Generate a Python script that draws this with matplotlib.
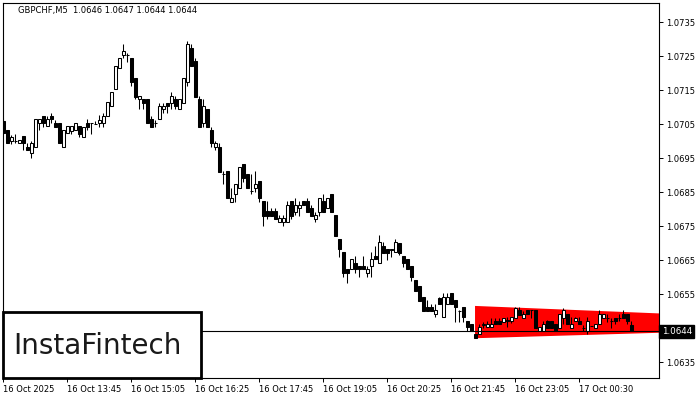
import matplotlib
matplotlib.use("Agg")
import matplotlib.pyplot as plt
from matplotlib.patches import Polygon, Rectangle

# GBPCHF M5 candles
opens = [
    1.07059, 1.07032, 1.07000, 1.07000, 1.06994, 1.07015, 1.06982, 1.06965, 1.06982, 1.07053,
    1.07074, 1.07044, 1.07074, 1.07053, 1.07053, 1.06982, 1.07024, 1.07029, 1.07032, 1.07044,
    1.07012, 1.07053, 1.07053, 1.07050, 1.07053, 1.07053, 1.07074, 1.07103, 1.07153, 1.07215,
    1.07253, 1.07253, 1.07244, 1.07185, 1.07124, 1.07124, 1.07124, 1.07065, 1.07053, 1.07065,
    1.07094, 1.07112, 1.07112, 1.07124, 1.07094, 1.07112, 1.07174, 1.07274, 1.07235, 1.07124,
    1.07053, 1.07094, 1.07032, 1.06982, 1.06982, 1.06903, 1.06912, 1.06821, 1.06844, 1.06862,
    1.06932, 1.06903, 1.06853, 1.06862, 1.06882, 1.06824, 1.06794, 1.06794, 1.06794, 1.06762,
    1.06762, 1.06762, 1.06824, 1.06791, 1.06803, 1.06824, 1.06824, 1.06803, 1.06771, 1.06791,
    1.06824, 1.06803, 1.06844, 1.06782, 1.06712, 1.06674, 1.06624, 1.06624, 1.06641, 1.06632,
    1.06632, 1.06612, 1.06632, 1.06662, 1.06641, 1.06691, 1.06682, 1.06682, 1.06674, 1.06700,
    1.06662, 1.06653, 1.06632, 1.06591, 1.06574, 1.06541, 1.06512, 1.06512, 1.06491, 1.06538,
    1.06482, 1.06521, 1.06553, 1.06532, 1.06500, 1.06512, 1.06471, 1.06462, 1.06432, 1.06432,
    1.06459, 1.06453, 1.06453, 1.06471, 1.06471, 1.06468, 1.06474, 1.06471, 1.06479, 1.06503,
    1.06479, 1.06503, 1.06503, 1.06503, 1.06441, 1.06441, 1.06471, 1.06471, 1.06462, 1.06450,
    1.06479, 1.06491, 1.06450, 1.06471, 1.06471, 1.06450, 1.06441, 1.06456, 1.06450, 1.06462,
    1.06479, 1.06479, 1.06471, 1.06479, 1.06479, 1.06491, 1.06491, 1.06460,
]
highs = [
    1.07068, 1.07032, 1.07018, 1.07021, 1.07003, 1.07015, 1.06994, 1.07000, 1.07065, 1.07065,
    1.07074, 1.07074, 1.07082, 1.07062, 1.07053, 1.07032, 1.07044, 1.07044, 1.07053, 1.07044,
    1.07041, 1.07065, 1.07053, 1.07059, 1.07076, 1.07082, 1.07115, 1.07144, 1.07221, 1.07244,
    1.07285, 1.07259, 1.07244, 1.07185, 1.07132, 1.07124, 1.07124, 1.07074, 1.07062, 1.07112,
    1.07112, 1.07112, 1.07144, 1.07132, 1.07124, 1.07185, 1.07294, 1.07285, 1.07244, 1.07132,
    1.07124, 1.07094, 1.07041, 1.07000, 1.06994, 1.06912, 1.06912, 1.06862, 1.06874, 1.06924,
    1.06932, 1.06903, 1.06903, 1.06912, 1.06882, 1.06824, 1.06824, 1.06803, 1.06803, 1.06782,
    1.06782, 1.06824, 1.06824, 1.06832, 1.06824, 1.06824, 1.06832, 1.06812, 1.06791, 1.06832,
    1.06844, 1.06832, 1.06844, 1.06782, 1.06712, 1.06674, 1.06624, 1.06653, 1.06662, 1.06632,
    1.06662, 1.06632, 1.06674, 1.06691, 1.06724, 1.06703, 1.06682, 1.06682, 1.06712, 1.06700,
    1.06662, 1.06653, 1.06632, 1.06591, 1.06574, 1.06541, 1.06532, 1.06521, 1.06521, 1.06541,
    1.06553, 1.06553, 1.06553, 1.06532, 1.06503, 1.06512, 1.06471, 1.06462, 1.06432, 1.06462,
    1.06468, 1.06471, 1.06479, 1.06479, 1.06479, 1.06479, 1.06482, 1.06482, 1.06512, 1.06512,
    1.06500, 1.06503, 1.06503, 1.06503, 1.06453, 1.06471, 1.06474, 1.06471, 1.06462, 1.06491,
    1.06509, 1.06491, 1.06482, 1.06482, 1.06482, 1.06459, 1.06482, 1.06456, 1.06462, 1.06503,
    1.06491, 1.06491, 1.06479, 1.06479, 1.06491, 1.06503, 1.06491, 1.06470,
]
lows = [
    1.07021, 1.06994, 1.06991, 1.06994, 1.06994, 1.06974, 1.06974, 1.06950, 1.06982, 1.07032,
    1.07041, 1.07044, 1.07053, 1.07041, 1.06994, 1.06982, 1.07024, 1.07021, 1.07032, 1.07012,
    1.07012, 1.07032, 1.07021, 1.07050, 1.07041, 1.07041, 1.07074, 1.07103, 1.07153, 1.07215,
    1.07244, 1.07232, 1.07162, 1.07124, 1.07094, 1.07094, 1.07053, 1.07041, 1.07041, 1.07065,
    1.07082, 1.07082, 1.07094, 1.07094, 1.07094, 1.07112, 1.07162, 1.07221, 1.07129, 1.07041,
    1.07041, 1.07041, 1.06982, 1.06974, 1.06909, 1.06874, 1.06832, 1.06821, 1.06821, 1.06862,
    1.06879, 1.06862, 1.06844, 1.06850, 1.06821, 1.06750, 1.06771, 1.06779, 1.06771, 1.06762,
    1.06750, 1.06762, 1.06771, 1.06782, 1.06779, 1.06812, 1.06791, 1.06779, 1.06762, 1.06779,
    1.06791, 1.06803, 1.06791, 1.06721, 1.06659, 1.06600, 1.06582, 1.06624, 1.06612, 1.06600,
    1.06624, 1.06600, 1.06600, 1.06653, 1.06641, 1.06671, 1.06650, 1.06659, 1.06674, 1.06665,
    1.06629, 1.06624, 1.06588, 1.06559, 1.06529, 1.06500, 1.06500, 1.06500, 1.06482, 1.06521,
    1.06482, 1.06521, 1.06521, 1.06468, 1.06468, 1.06468, 1.06441, 1.06441, 1.06421, 1.06432,
    1.06450, 1.06453, 1.06453, 1.06462, 1.06462, 1.06468, 1.06453, 1.06465, 1.06479, 1.06488,
    1.06479, 1.06491, 1.06479, 1.06450, 1.06441, 1.06441, 1.06450, 1.06450, 1.06441, 1.06450,
    1.06462, 1.06462, 1.06450, 1.06471, 1.06462, 1.06441, 1.06432, 1.06456, 1.06450, 1.06462,
    1.06479, 1.06468, 1.06450, 1.06462, 1.06471, 1.06479, 1.06462, 1.06440,
]
closes = [
    1.07024, 1.06994, 1.07012, 1.07000, 1.07003, 1.06994, 1.06974, 1.06994, 1.07065, 1.07065,
    1.07053, 1.07065, 1.07065, 1.07041, 1.06994, 1.07032, 1.07044, 1.07044, 1.07053, 1.07021,
    1.07041, 1.07041, 1.07053, 1.07050, 1.07062, 1.07074, 1.07115, 1.07144, 1.07221, 1.07244,
    1.07265, 1.07253, 1.07174, 1.07129, 1.07132, 1.07112, 1.07053, 1.07041, 1.07053, 1.07103,
    1.07103, 1.07103, 1.07132, 1.07103, 1.07124, 1.07185, 1.07285, 1.07221, 1.07129, 1.07041,
    1.07103, 1.07041, 1.06994, 1.06994, 1.06909, 1.06903, 1.06832, 1.06832, 1.06874, 1.06924,
    1.06891, 1.06862, 1.06853, 1.06874, 1.06832, 1.06779, 1.06779, 1.06779, 1.06771, 1.06774,
    1.06774, 1.06812, 1.06779, 1.06812, 1.06812, 1.06812, 1.06791, 1.06779, 1.06782, 1.06832,
    1.06791, 1.06832, 1.06791, 1.06721, 1.06682, 1.06612, 1.06612, 1.06653, 1.06624, 1.06624,
    1.06624, 1.06624, 1.06653, 1.06653, 1.06703, 1.06671, 1.06671, 1.06679, 1.06703, 1.06671,
    1.06641, 1.06624, 1.06600, 1.06559, 1.06529, 1.06500, 1.06500, 1.06500, 1.06503, 1.06521,
    1.06541, 1.06541, 1.06521, 1.06512, 1.06500, 1.06482, 1.06453, 1.06441, 1.06421, 1.06453,
    1.06462, 1.06462, 1.06462, 1.06462, 1.06462, 1.06479, 1.06471, 1.06482, 1.06509, 1.06488,
    1.06491, 1.06491, 1.06503, 1.06450, 1.06453, 1.06462, 1.06450, 1.06450, 1.06441, 1.06491,
    1.06503, 1.06462, 1.06462, 1.06479, 1.06462, 1.06450, 1.06471, 1.06456, 1.06462, 1.06491,
    1.06491, 1.06479, 1.06471, 1.06471, 1.06479, 1.06479, 1.06471, 1.06440,
]

time_label_bars = [0, 16, 32, 48, 64, 80, 96, 112, 128, 144]
time_labels = ["16 Oct 2025", "16 Oct 13:45", "16 Oct 15:05", "16 Oct 16:25",
               "16 Oct 17:45", "16 Oct 19:05", "16 Oct 20:25", "16 Oct 21:45",
               "16 Oct 23:05", "17 Oct 00:30"]
price_ticks = [1.0635, 1.0645, 1.0655, 1.0665, 1.0675, 1.0685,
               1.0695, 1.0705, 1.0715, 1.0725, 1.0735]
title = "GBPCHF,M5  1.0646 1.0647 1.0644 1.0644"
last_price = 1.0644

# red pattern (flag) corners
pattern_start_bar = 117.9
pattern_top = [1.06515, 1.06493]
pattern_bottom = [1.06420, 1.06436]

W, H = 700, 400
fig = plt.figure(figsize=(W / 100, H / 100), dpi=100)
fig.patch.set_facecolor("white")
ax = fig.add_axes([2.7 / W, 22 / H, 656.3 / W, 375.3 / H])
x_lo, x_hi = -0.2, 163.9
ax.set_xlim(x_lo, x_hi)
ax.set_ylim(1.06303, 1.07407)

# pattern area
ax.add_patch(Polygon([(pattern_start_bar, pattern_top[0]), (x_hi, pattern_top[1]),
                      (x_hi, pattern_bottom[1]), (pattern_start_bar, pattern_bottom[0])],
                     closed=True, facecolor="#ff0000", edgecolor="none", zorder=1))

n = len(opens)
xs = list(range(n))
ax.vlines(xs, lows, highs, color="black", linewidth=0.75, zorder=2)
body_w = 0.65
for i in xs:
    o, c = opens[i], closes[i]
    lo = min(o, c)
    hgt = abs(c - o)
    fc = "white" if c >= o else "black"
    ax.add_patch(Rectangle((i - body_w / 2, lo), body_w, hgt, facecolor=fc,
                           edgecolor="black", linewidth=0.75, zorder=3))

ax.axhline(last_price, color="black", linewidth=0.8, zorder=4)

# axes styling
for s in ax.spines.values():
    s.set_linewidth(0.8)
    s.set_color("black")
ax.yaxis.tick_right()
ax.set_yticks(price_ticks)
ax.set_yticklabels(["%.4f" % p for p in price_ticks])
ax.tick_params(axis="y", direction="out", length=3, width=0.7, pad=2,
               labelsize=6, colors="black")
ax.set_xticks(time_label_bars)
ax.set_xticklabels(time_labels)
ax.tick_params(axis="x", direction="out", length=3, width=0.7, pad=2,
               labelsize=6, colors="black")
for lbl in ax.get_xticklabels():
    lbl.set_horizontalalignment("left")

ax.text(1.004, last_price, "%.4f" % last_price, transform=ax.get_yaxis_transform(),
        ha="left", va="center", fontsize=6.3, color="white", clip_on=False,
        bbox=dict(boxstyle="square,pad=0.25", facecolor="black", edgecolor="black"),
        zorder=10)

fig.text(18 / W, 1 - 11 / H, title, ha="left", va="center", fontsize=6, color="black")

# logo
fig.patches.append(Rectangle((3 / W, 22 / H), 198 / W, 66 / H, transform=fig.transFigure,
                             facecolor="white", edgecolor="black", linewidth=2, zorder=5))
fig.text(97 / W, 1 - 346 / H, "InstaFintech", ha="center", va="center",
         fontsize=20, color="#1a1a1a", zorder=6)

fig.savefig("out.png", dpi=100)
